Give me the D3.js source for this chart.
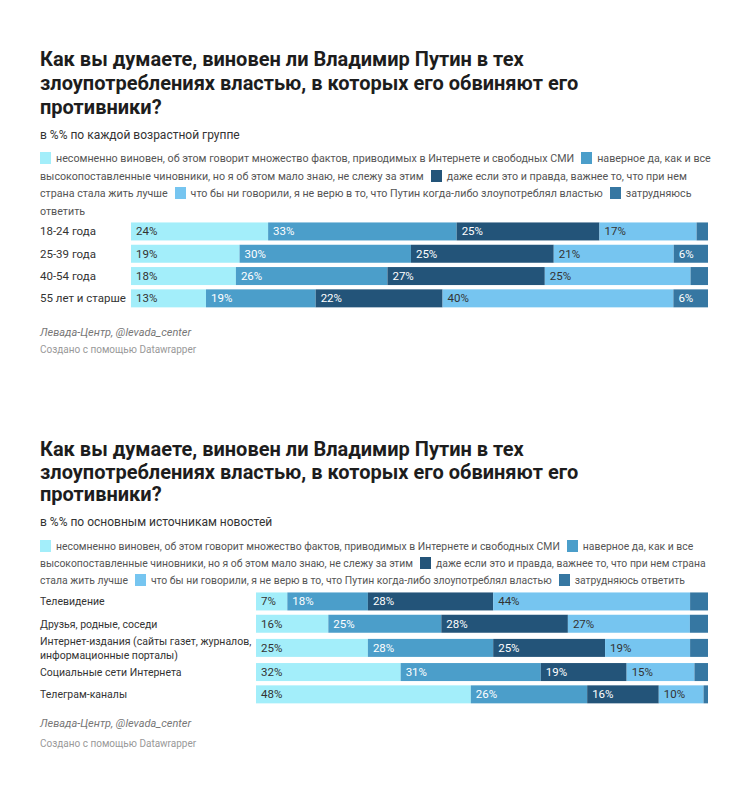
<!DOCTYPE html>
<html>
<head>
<meta charset="utf-8">
<script src="https://cdn.jsdelivr.net/npm/d3@7"></script>
<style>
  body { margin: 0; background: #fff; font-family: Roboto, "Noto Sans", sans-serif; }
  #page { position: relative; width: 750px; height: 807px; }
  svg { position: absolute; left: 0; top: 0; }
  .legend { position: absolute; left: 40px; color: #555; }
  .legend .item { margin-right: 7px; }
  .legend .sw { display: inline-block; width: 11px; height: 12px; vertical-align: -2px; margin-right: 5px; }
</style>
</head>
<body>
<div id="page"></div>
<script>
// answer options (legend), same for both charts
var answers = [
  "несомненно виновен, об этом говорит множество фактов, приводимых в Интернете и свободных СМИ",
  "наверное да, как и все высокопоставленные чиновники, но я об этом мало знаю, не слежу за этим",
  "даже если это и правда, важнее то, что при нем страна стала жить лучше",
  "что бы ни говорили, я не верю в то, что Путин когда-либо злоупотреблял властью",
  "затрудняюсь ответить"
];
var colors = ["#a3eefa", "#4b9eca", "#235479", "#76c5f0", "#3677a2"];

var titleLines = [
  "Как вы думаете, виновен ли Владимир Путин в тех",
  "злоупотреблениях властью, в которых его обвиняют его",
  "противники?"
];

// chart 1: age groups
var ageGroups = ["18-24 года", "25-39 года", "40-54 года", "55 лет и старше"];
var ageGuilty = [24, 19, 18, 13];
var ageProbably = [33, 30, 26, 19];
var ageEvenIf = [25, 25, 27, 22];
var ageNotBelieve = [17, 21, 25, 40];
var ageHard = [2, 6, 3, 6];

// chart 2: news sources
var sources = ["Телевидение", "Друзья, родные, соседи",
  "Интернет-издания (сайты газет, журналов, информационные порталы)",
  "Социальные сети Интернета", "Телеграм-каналы"];
var srcGuilty = [7, 16, 25, 32, 48];
var srcProbably = [18, 25, 28, 31, 26];
var srcEvenIf = [28, 28, 25, 19, 16];
var srcNotBelieve = [44, 27, 19, 15, 10];
var srcHard = [4, 4, 4, 3, 1];

var page = d3.select("#page");
var svg = page.append("svg").attr("width", 750).attr("height", 807);

drawChart({
  titleY: 66, titleStep: 24,
  subtitleY: 139,
  subtitle: "в %% по каждой возрастной группе",
  legendTop: 150, legendWidth: 676, legendFont: 10.7, legendLine: 17.7,
  rows: ageGroups,
  series: [ageGuilty, ageProbably, ageEvenIf, ageNotBelieve, ageHard],
  labelFont: 11.5, labelMax: 89,
  barLeft: 131,
  barsTop: 222.3,
  footY: [26, 43]
});

drawChart({
  titleY: 456, titleStep: 22.7,
  subtitleY: 526,
  subtitle: "в %% по основным источникам новостей",
  legendTop: 537.5, legendWidth: 682, legendFont: 10.4, legendLine: 17,
  rows: sources,
  series: [srcGuilty, srcProbably, srcEvenIf, srcNotBelieve, srcHard],
  labelFont: 10.5, labelMax: 213,
  barLeft: 256,
  barsTop: 592.3,
  footY: [21.5, 41]
});

function drawChart(o) {
  var g = svg.append("g");

  // title
  g.append("text")
    .attr("x", 40)
    .attr("y", o.titleY)
    .style("font-size", "20px")
    .style("font-weight", "bold")
    .style("fill", "#1d1d1d")
    .selectAll("tspan")
    .data(titleLines)
    .enter()
    .append("tspan")
    .attr("x", 40)
    .attr("dy", function (d, i) { return i ? o.titleStep : 0; })
    .text(function (d) { return d; });

  g.append("text")
    .attr("x", 40)
    .attr("y", o.subtitleY)
    .style("font-size", "12px")
    .style("fill", "#333")
    .text(o.subtitle);

  // legend, html so it wraps like the original
  var legend = page.append("div")
    .attr("class", "legend")
    .style("top", o.legendTop + "px")
    .style("width", o.legendWidth + "px")
    .style("font-size", o.legendFont + "px")
    .style("line-height", o.legendLine + "px");
  var items = legend.selectAll("span.item")
    .data(answers)
    .enter()
    .append("span")
    .attr("class", "item");
  items.append("span")
    .attr("class", "sw")
    .style("background", function (d, i) { return colors[i]; });
  items.append("span").text(function (d) { return d; });

  // table for the stack
  var table = o.rows.map(function (r, i) {
    var row = { name: r };
    answers.forEach(function (a, j) { row[j] = o.series[j][i]; });
    return row;
  });
  var stack = d3.stack()
    .keys(d3.range(answers.length))
    .offset(d3.stackOffsetExpand);
  var layers = stack(table);

  var x = d3.scaleLinear().domain([0, 1]).range([o.barLeft, 708]);

  // row labels first, so two-line labels give the row more room
  var labels = g.append("g").selectAll("text")
    .data(o.rows)
    .enter()
    .append("text")
    .attr("x", 40)
    .style("font-size", o.labelFont + "px")
    .style("fill", "#333");
  var lineCount = [];
  labels.each(function (d, i) {
    lineCount[i] = wrap(d3.select(this), d, o.labelMax);
  });

  var barH = 18;
  var tops = [];
  var cur = o.barsTop - 2;
  o.rows.forEach(function (r, i) {
    var block = Math.max(22.3, lineCount[i] * 13);
    tops.push(cur + (block - barH) / 2);
    cur += block;
  });
  var y = d3.scaleOrdinal().domain(o.rows).range(tops);

  labels.each(function (d, i) {
    var n = lineCount[i];
    d3.select(this).selectAll("tspan")
      .attr("y", function (t, k) { return y(d) + barH / 2 + 4 + (k - (n - 1) / 2) * 13.5; });
  });

  var layerG = g.append("g").selectAll("g")
    .data(layers)
    .enter()
    .append("g")
    .style("fill", function (d) { return colors[d.key]; });

  layerG.selectAll("rect")
    .data(function (d) { return d; })
    .enter()
    .append("rect")
    .attr("x", function (d) { return x(d[0]); })
    .attr("y", function (d) { return y(d.data.name); })
    .attr("width", function (d) { return x(d[1]) - x(d[0]); })
    .attr("height", barH);

  // value labels, only where they fit
  layers.forEach(function (layer) {
    var dark = layer.key == 1 || layer.key == 2 || layer.key == 4;
    g.append("g").selectAll("text")
      .data(layer)
      .enter()
      .append("text")
      .attr("x", function (d) { return x(d[0]) + 5; })
      .attr("y", function (d) { return y(d.data.name) + barH / 2 + 4; })
      .style("font-size", "11.5px")
      .style("fill", dark ? "#fff" : "#333")
      .text(function (d) { return d.data[layer.key] + "%"; })
      .each(function (d) {
        var w = x(d[1]) - x(d[0]);
        if (this.getComputedTextLength() + 9 > w) d3.select(this).remove();
      });
  });

  // footer
  g.append("text")
    .attr("x", 40)
    .attr("y", cur + o.footY[0])
    .style("font-size", "11px")
    .style("font-style", "italic")
    .style("fill", "#777")
    .text("Левада-Центр, @levada_center");
  g.append("text")
    .attr("x", 40)
    .attr("y", cur + o.footY[1])
    .style("font-size", "10px")
    .style("fill", "#999")
    .text("Создано с помощью Datawrapper");
}

// simple word wrap into tspans, returns number of lines
function wrap(text, str, maxW) {
  var words = str.split(" ");
  var lines = [];
  var line = [];
  var t = text.append("tspan").attr("x", 40);
  words.forEach(function (w) {
    line.push(w);
    t.text(line.join(" "));
    if (t.node().getComputedTextLength() > maxW && line.length > 1) {
      line.pop();
      lines.push(line.join(" "));
      line = [w];
    }
  });
  lines.push(line.join(" "));
  t.remove();
  lines.forEach(function (l) {
    text.append("tspan").attr("x", 40).text(l);
  });
  return lines.length;
}
</script>
</body>
</html>
